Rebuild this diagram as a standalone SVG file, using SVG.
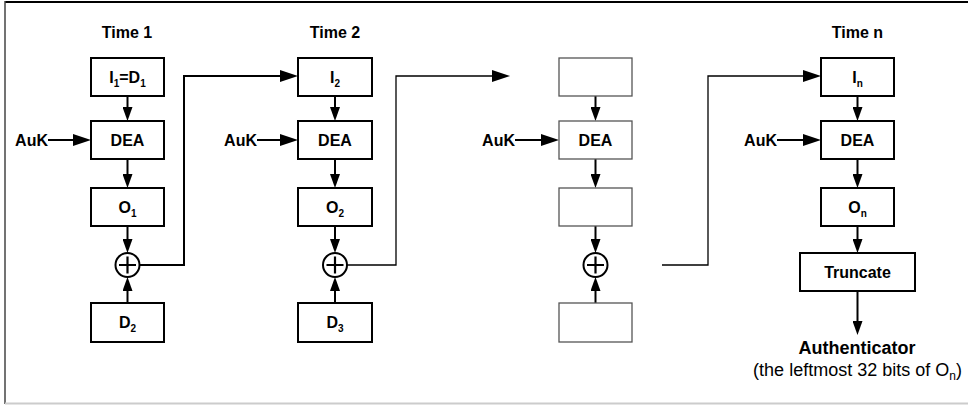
<svg xmlns="http://www.w3.org/2000/svg" width="968" height="405" viewBox="0 0 968 405">
<style>
.t{font-family:"Liberation Sans",Arial,sans-serif;font-weight:bold;font-size:16px;text-anchor:middle;fill:#000}
.s{font-size:10px}
.bx{fill:#fff;stroke:#000;stroke-width:2}
.gx{fill:#fff;stroke:#555;stroke-width:1.3}
.ln{fill:none;stroke:#000;stroke-width:2}
.lt{fill:none;stroke:#000;stroke-width:1.3}
.ah{marker-end:url(#ah)}
.av{marker-end:url(#av)}
</style>
<defs>
<marker id="ah" markerUnits="userSpaceOnUse" viewBox="0 0 18 12" refX="12" refY="6" markerWidth="18" markerHeight="12" orient="auto"><path d="M0,0 L18,6 L0,12 z" fill="#000"/></marker>
<marker id="av" markerUnits="userSpaceOnUse" viewBox="0 0 14 10" refX="8" refY="5" markerWidth="14" markerHeight="10" orient="auto"><path d="M0,0 L14,5 L0,10 z" fill="#000"/></marker>
</defs>
<rect width="968" height="405" fill="#fff"/>
<g id="frame">
<line x1="5" y1="2" x2="968" y2="2" stroke="#000" stroke-width="2"/>
<line x1="5" y1="1" x2="5" y2="404" stroke="#444" stroke-width="1.5"/>
<line x1="5" y1="403.5" x2="968" y2="403.5" stroke="#ccc" stroke-width="2"/>
</g>
<g id="titles">
<text class="t" x="127" y="38">Time 1</text>
<text class="t" x="335" y="38">Time 2</text>
<text class="t" x="857.5" y="38">Time n</text>
</g>
<g id="connectors">
<line class="ln av" x1="127.5" y1="96" x2="127.5" y2="115"/>
<line class="ln av" x1="127.5" y1="159" x2="127.5" y2="182"/>
<line class="ln av" x1="127.5" y1="226" x2="127.5" y2="247"/>
<line class="ln av" x1="127.5" y1="303" x2="127.5" y2="283"/>
<line class="ln ah" x1="48" y1="140" x2="85" y2="140"/>
<path class="ln ah" d="M139.5,265 H184 V76 H292"/>
<line class="ln av" x1="335" y1="96" x2="335" y2="115"/>
<line class="ln av" x1="335" y1="159" x2="335" y2="182"/>
<line class="ln av" x1="335" y1="226" x2="335" y2="247"/>
<line class="ln av" x1="335" y1="303" x2="335" y2="283"/>
<line class="ln ah" x1="257" y1="140" x2="292" y2="140"/>
<path class="lt ah" d="M347,265 H396 V76 H504"/>
<line class="ln av" x1="595.5" y1="96" x2="595.5" y2="115"/>
<line class="ln av" x1="595.5" y1="159" x2="595.5" y2="182"/>
<line class="ln av" x1="595.5" y1="226" x2="595.5" y2="247"/>
<line class="ln av" x1="595.5" y1="303" x2="595.5" y2="283"/>
<line class="ln ah" x1="515" y1="140" x2="553" y2="140"/>
<path class="lt ah" d="M662,265 H708 V76 H815"/>
<line class="ln av" x1="857.5" y1="96" x2="857.5" y2="115"/>
<line class="ln av" x1="857.5" y1="159" x2="857.5" y2="182"/>
<line class="ln av" x1="857.5" y1="226" x2="857.5" y2="247"/>
<line class="ln av" x1="857.5" y1="291" x2="857.5" y2="329"/>
<line class="ln ah" x1="777" y1="140" x2="815" y2="140"/>
</g>
<g id="auk1"><text class="t" x="48" y="146" style="text-anchor:end">AuK</text></g>
<g id="auk2"><text class="t" x="257" y="146" style="text-anchor:end">AuK</text></g>
<g id="auk3"><text class="t" x="515" y="146" style="text-anchor:end">AuK</text></g>
<g id="auk4"><text class="t" x="777" y="146" style="text-anchor:end">AuK</text></g>
<g id="i1"><rect class="bx" x="91" y="58" width="73" height="38"/><text class="t" x="127.5" y="83">I<tspan class="s" dy="4">1</tspan><tspan dy="-4">=D</tspan><tspan class="s" dy="4">1</tspan></text></g>
<g id="dea1"><rect class="bx" x="91" y="121" width="73" height="38"/><text class="t" x="127.5" y="146">DEA</text></g>
<g id="o1"><rect class="bx" x="91" y="188" width="73" height="38"/><text class="t" x="127.5" y="213">O<tspan class="s" dy="4">1</tspan></text></g>
<g id="x1"><circle cx="127.5" cy="265" r="12" fill="#fff" stroke="#000" stroke-width="2"/><path d="M119,265 H136 M127.5,256.5 V273.5" stroke="#000" stroke-width="2.2"/></g>
<g id="d2"><rect class="bx" x="91" y="303" width="73" height="39"/><text class="t" x="127.5" y="328">D<tspan class="s" dy="4">2</tspan></text></g>
<g id="i2"><rect class="bx" x="298" y="58" width="74" height="38"/><text class="t" x="335" y="83">I<tspan class="s" dy="4">2</tspan></text></g>
<g id="dea2"><rect class="bx" x="298" y="121" width="74" height="38"/><text class="t" x="335" y="146">DEA</text></g>
<g id="o2"><rect class="bx" x="298" y="188" width="74" height="38"/><text class="t" x="335" y="213">O<tspan class="s" dy="4">2</tspan></text></g>
<g id="x2"><circle cx="335" cy="265" r="12" fill="#fff" stroke="#000" stroke-width="2"/><path d="M326.5,265 H343.5 M335,256.5 V273.5" stroke="#000" stroke-width="2.2"/></g>
<g id="d3"><rect class="bx" x="298" y="303" width="74" height="39"/><text class="t" x="335" y="328">D<tspan class="s" dy="4">3</tspan></text></g>
<g id="i3"><rect class="gx" x="559" y="58" width="73" height="38"/></g>
<g id="dea3"><rect class="gx" x="559" y="121" width="73" height="38"/><text class="t" x="595.5" y="146">DEA</text></g>
<g id="o3"><rect class="gx" x="559" y="188" width="73" height="38"/></g>
<g id="x3"><circle cx="595.5" cy="265" r="12" fill="#fff" stroke="#000" stroke-width="2"/><path d="M587,265 H604 M595.5,256.5 V273.5" stroke="#000" stroke-width="2.2"/></g>
<g id="d4"><rect class="gx" x="559" y="303" width="73" height="39"/></g>
<g id="in"><rect class="bx" x="821" y="58" width="73" height="38"/><text class="t" x="857.5" y="83">I<tspan class="s" dy="4">n</tspan></text></g>
<g id="dean"><rect class="bx" x="821" y="121" width="73" height="38"/><text class="t" x="857.5" y="146">DEA</text></g>
<g id="on"><rect class="bx" x="821" y="188" width="73" height="38"/><text class="t" x="857.5" y="213">O<tspan class="s" dy="4">n</tspan></text></g>
<g id="trunc"><rect class="bx" x="800" y="253" width="115" height="38"/><text class="t" x="857.5" y="278">Truncate</text></g>
<g id="auth">
<text class="t" x="857" y="354" style="font-size:18px">Authenticator</text>
<text class="t" x="857.5" y="376" style="font-size:18px;font-weight:normal">(the leftmost 32 bits of O<tspan style="font-size:12px" dy="4">n</tspan><tspan dy="-4">)</tspan></text>
</g>
</svg>
